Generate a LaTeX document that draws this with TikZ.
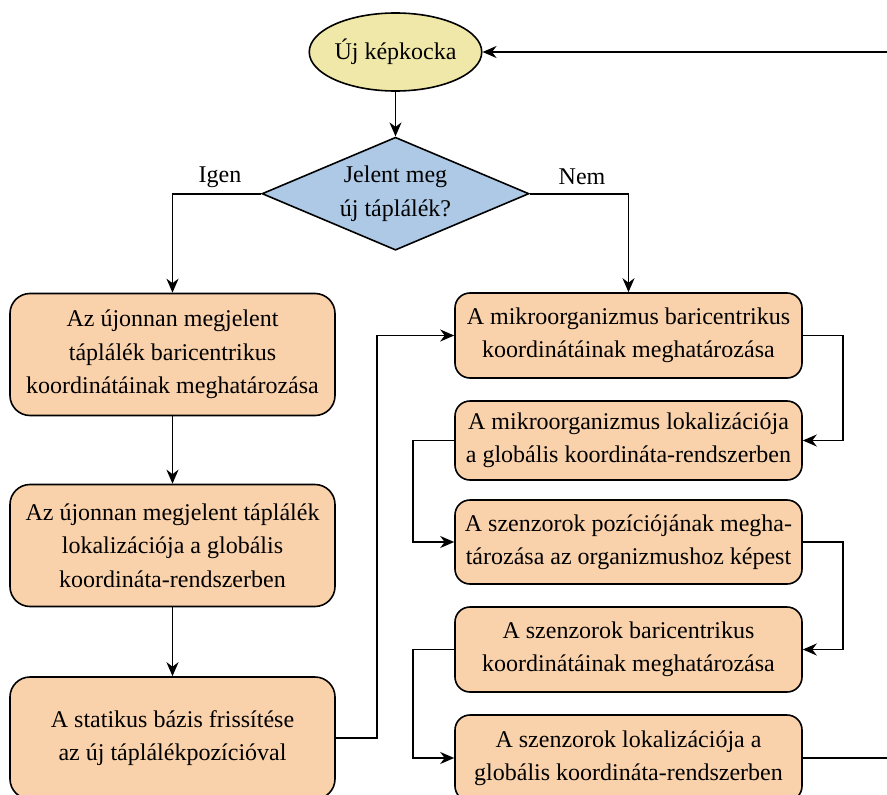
\documentclass[tikz,border=0pt]{standalone}
\usepackage{fontspec}
\setmainfont{Liberation Serif}
\usetikzlibrary{arrows.meta,shapes.geometric}
\definecolor{startfill}{HTML}{F0E8A8}
\definecolor{decfill}{HTML}{ADC9E6}
\definecolor{procfill}{HTML}{F9D1AA}
\begin{document}
\begin{tikzpicture}[x=1pt,y=-1pt,
  every node/.style={font=\rmfamily\fontsize{24}{33.3}\selectfont},
  lbox/.style={draw, fill=procfill, rounded corners=20pt, minimum width=325pt, minimum height=122pt, align=center, inner sep=0pt, line width=1.6pt},
  rbox/.style={draw, fill=procfill, rounded corners=15pt, minimum width=347pt, align=center, inner sep=0pt, line width=1.6pt},
  conn/.style={line width=1.6pt, -{Stealth[length=14pt,width=12pt,inset=4.5pt]}}]
\useasboundingbox (0,0) rectangle (887,795);
\clip (0,0) rectangle (887,795);

\node[ellipse, draw, fill=startfill, minimum width=166pt, minimum height=78pt, inner sep=0pt, line width=1.6pt] (start) at (395.5,52) {Új képkocka};
\node[diamond, draw, fill=decfill, aspect=2.36, minimum width=267pt, minimum height=113pt, inner sep=0pt, align=center, line width=1.6pt] (dec) at (395.5,193.7) {Jelent meg\\új táplálék?};

\node[lbox] (L1) at (172.5,354.5) {Az újonnan megjelent\\táplálék baricentrikus\\koordinátáinak meghatározása};
\node[lbox] (L2) at (172.5,545.5) {Az újonnan megjelent táplálék\\lokalizációja a globális\\koordináta-rendszerben};
\node[lbox] (L3) at (172.5,738) {A statikus bázis frissítése\\az új táplálékpozícióval};

\node[rbox, minimum height=85pt] (R1) at (628.5,335.5) {A mikroorganizmus baricentrikus\\koordinátáinak meghatározása};
\node[rbox, minimum height=79pt] (R2) at (628.5,440.5) {A mikroorganizmus lokalizációja\\a globális koordináta-rendszerben};
\node[rbox, minimum height=84pt] (R3) at (628.5,542) {A szenzorok pozíciójának megha-\\tározása az organizmushoz képest};
\node[rbox, minimum height=85pt] (R4) at (628.5,649.5) {A szenzorok baricentrikus\\koordinátáinak meghatározása};
\node[rbox, minimum height=86pt] (R5) at (628.5,758) {A szenzorok lokalizációja a\\globális koordináta-rendszerben};

\node (igen) at (220,177) {Igen};
\node (nem) at (582,177) {Nem};

\draw[conn] (start) -- (dec);
\draw[conn] (dec.west) -| (L1.north);
\draw[conn] (dec.east) -| (R1.north);
\draw[conn] (L1) -- (L2);
\draw[conn] (L2) -- (L3);
\draw[conn] (L3.east) -- ++(41,0) |- (R1.west);
\draw[conn] (R1.east) -- ++(40,0) |- (R2.east);
\draw[conn] (R2.west) -- ++(-41,0) |- (R3.west);
\draw[conn] (R3.east) -- ++(40,0) |- (R4.east);
\draw[conn] (R4.west) -- ++(-41,0) |- (R5.west);
\draw[conn] (R5.east) -- ++(120,0) |- (start.east);
\end{tikzpicture}
\end{document}
